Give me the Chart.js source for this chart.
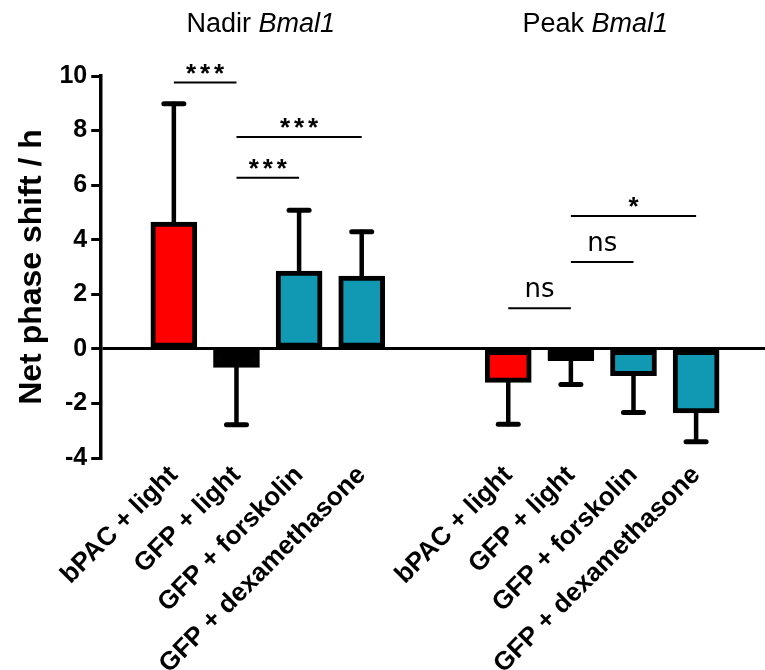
<!DOCTYPE html>
<html>
<head>
<meta charset="utf-8">
<script src="https://cdn.jsdelivr.net/npm/chart.js@4.4.1/dist/chart.umd.min.js"></script>
<style>
  html, body { margin: 0; padding: 0; background: #fff; }
  #wrap { width: 765px; height: 670px; }
</style>
</head>
<body>
<div id="wrap"><canvas id="phaseChart"></canvas></div>
<script>
// 数据：相位偏移 (h)，误差为单侧误差线长度
const treatments = ['bPAC + light', 'GFP + light', 'GFP + forskolin', 'GFP + dexamethasone'];
const groupTitles = ['Nadir', 'Peak'];
const nadirShift = [4.65, -0.68, 2.85, 2.67];
const nadirErr = [4.33, 2.10, 2.23, 1.62];
const peakShift = [-1.23, -0.43, -0.98, -2.35];
const peakErr = [1.53, 0.88, 1.35, 1.05];
const yTicks = [-4, -2, 0, 2, 4, 6, 8, 10];

// 显著性标注：bar 序号 (0-7)，高度，文字
const brackets = [
  { a: 0, b: 1, y: 9.76, text: '***' },
  { a: 1, b: 3, y: 7.76, text: '***' },
  { a: 1, b: 2, y: 6.27, text: '***' },
  { a: 4, b: 5, y: 1.49, text: 'ns' },
  { a: 5, b: 6, y: 3.18, text: 'ns' },
  { a: 5, b: 7, y: 4.87, text: '*' }
];

// 柱子在 x 轴上的位置（两组之间留空）
const nadirPos = [1.16, 2.16, 3.16, 4.16];
const peakPos = [6.5, 7.5, 8.5, 9.5];
const treatColors = ['#FF0000', '#000000', '#1199B3', '#1199B3'];

const allPos = nadirPos.concat(peakPos);
const allShift = nadirShift.concat(peakShift);
const allErr = nadirErr.concat(peakErr);
const allLabels = treatments.concat(treatments);
const allColors = treatColors.concat(treatColors);

const SANS = "'Liberation Sans', Arial, sans-serif";

// 误差线
const errorBarPlugin = {
  id: 'errorBars',
  afterDatasetsDraw(chart) {
    const ctx = chart.ctx;
    const y = chart.scales.y;
    const meta = chart.getDatasetMeta(0);
    ctx.save();
    ctx.strokeStyle = '#000';
    ctx.lineCap = 'round';
    meta.data.forEach((bar, i) => {
      const v = allShift[i];
      const end = v >= 0 ? v + allErr[i] : v - allErr[i];
      const y0 = y.getPixelForValue(v);
      const y1 = y.getPixelForValue(end);
      ctx.lineWidth = 4.5;
      ctx.beginPath();
      ctx.moveTo(bar.x, y0);
      ctx.lineTo(bar.x, y1);
      ctx.stroke();
      ctx.lineWidth = 5;
      ctx.beginPath();
      ctx.moveTo(bar.x - 10, y1);
      ctx.lineTo(bar.x + 10, y1);
      ctx.stroke();
    });
    ctx.restore();
  }
};

// 显著性横线和组标题
const annotationPlugin = {
  id: 'annotations',
  afterDraw(chart) {
    const ctx = chart.ctx;
    const x = chart.scales.x;
    const y = chart.scales.y;
    ctx.save();
    ctx.fillStyle = '#000';
    ctx.strokeStyle = '#000';
    brackets.forEach(br => {
      const xa = x.getPixelForValue(allPos[br.a]);
      const xb = x.getPixelForValue(allPos[br.b]);
      const ly = y.getPixelForValue(br.y);
      ctx.lineWidth = 2;
      ctx.beginPath();
      ctx.moveTo(xa, ly);
      ctx.lineTo(xb, ly);
      ctx.stroke();
      const cx = (xa + xb) / 2;
      ctx.textAlign = 'center';
      ctx.textBaseline = 'alphabetic';
      if (br.text === 'ns') {
        ctx.font = "26px 'DejaVu Sans', sans-serif";
        ctx.fillText(br.text, cx, ly - 11);
      } else {
        ctx.font = 'bold 26px ' + SANS;
        const n = br.text.length;
        for (let k = 0; k < n; k++) {
          ctx.fillText('*', cx + (k - (n - 1) / 2) * 14, ly - 1);
        }
      }
    });

    // 组标题：Nadir Bmal1 / Peak Bmal1
    const groups = [nadirPos, peakPos];
    groups.forEach((pos, g) => {
      const mid = x.getPixelForValue((pos[0] + pos[pos.length - 1]) / 2) - 7;
      const first = groupTitles[g] + ' ';
      ctx.font = '27px ' + SANS;
      const w1 = ctx.measureText(first).width;
      ctx.font = 'italic 27px ' + SANS;
      const w2 = ctx.measureText('Bmal1').width;
      const left = mid - (w1 + w2) / 2;
      ctx.textAlign = 'left';
      ctx.textBaseline = 'alphabetic';
      ctx.font = '27px ' + SANS;
      ctx.fillText(first, left, 32);
      ctx.font = 'italic 27px ' + SANS;
      ctx.fillText('Bmal1', left + w1, 32);
    });
    ctx.restore();
  }
};

const ctx = document.getElementById('phaseChart').getContext('2d');
new Chart(ctx, {
  type: 'bar',
  data: {
    datasets: [{
      data: allPos.map((p, i) => ({ x: p, y: allShift[i] })),
      backgroundColor: allColors,
      borderColor: '#000',
      borderWidth: 5,
      borderSkipped: false,
      barThickness: 46
    }]
  },
  options: {
    responsive: true,
    maintainAspectRatio: false,
    animation: false,
    layout: {
      padding: { top: 76, left: 13, right: 0, bottom: 0 }
    },
    plugins: {
      legend: { display: false },
      tooltip: { enabled: false }
    },
    scales: {
      x: {
        type: 'linear',
        offset: false,
        min: 0,
        max: 10.6,
        afterBuildTicks: (scale) => {
          scale.ticks = allPos.map(v => ({ value: v }));
        },
        afterFit: (scale) => {
          scale.height = 212;
          scale.paddingLeft = 0;
          scale.paddingRight = 0;
        },
        grid: { display: false, drawTicks: false },
        border: { display: false },
        ticks: {
          autoSkip: false,
          minRotation: 45,
          maxRotation: 45,
          padding: 2,
          color: '#000',
          font: { family: SANS, size: 26, weight: 'bold' },
          callback: (value) => {
            const i = allPos.indexOf(value);
            return i >= 0 ? allLabels[i] : '';
          }
        }
      },
      y: {
        min: -4,
        max: 10,
        afterBuildTicks: (scale) => {
          scale.ticks = yTicks.map(v => ({ value: v }));
        },
        border: { display: true, color: '#000', width: 3.5 },
        grid: {
          color: (c) => (c.tick && c.tick.value === 0 ? '#000' : 'rgba(0,0,0,0)'),
          lineWidth: 3,
          tickColor: '#000',
          tickWidth: 3,
          tickLength: 10
        },
        ticks: {
          padding: 4,
          color: '#000',
          font: { family: SANS, size: 25, weight: 'bold' }
        },
        title: {
          display: true,
          text: 'Net phase shift / h',
          color: '#000',
          font: { family: SANS, size: 32, weight: 'bold' },
          padding: { top: 0, bottom: 4 }
        }
      }
    }
  },
  plugins: [errorBarPlugin, annotationPlugin]
});
</script>
</body>
</html>
